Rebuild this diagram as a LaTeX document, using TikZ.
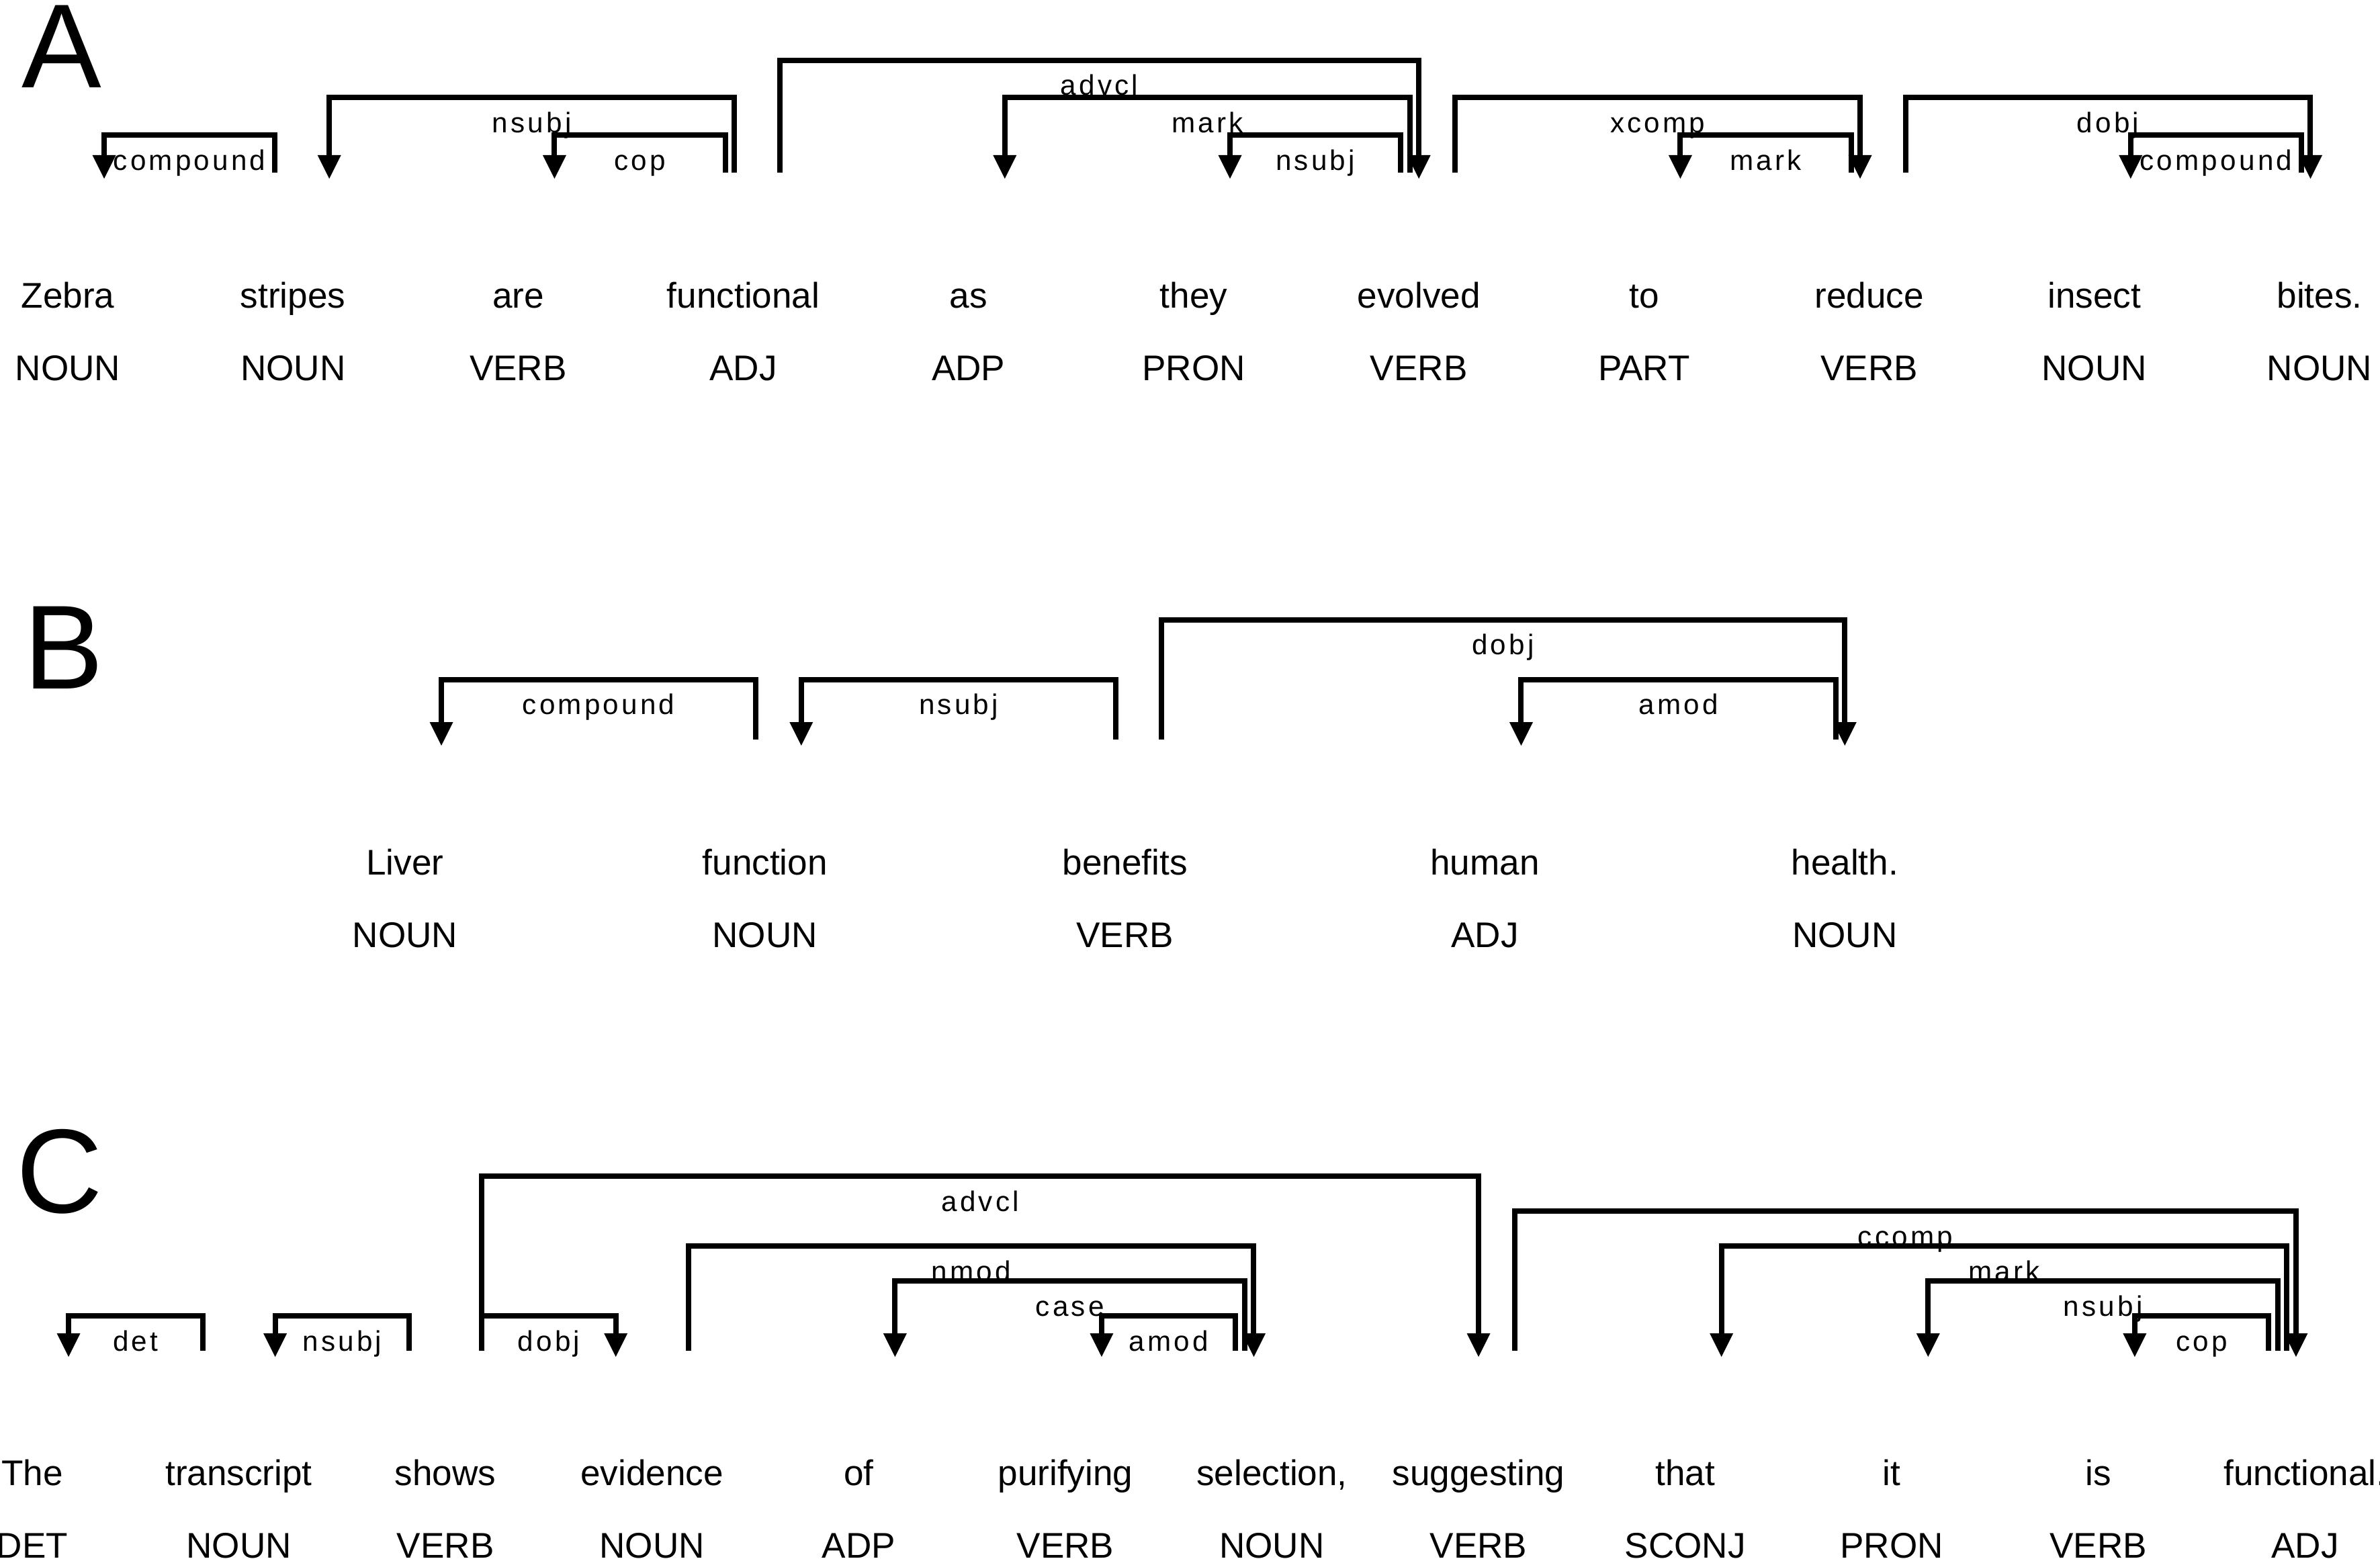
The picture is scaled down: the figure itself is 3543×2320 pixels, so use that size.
\documentclass[tikz,border=0pt]{standalone}
\usepackage{fontspec}
\setmainfont{Liberation Sans}
\usetikzlibrary{arrows.meta, positioning}

\begin{document}
\begin{tikzpicture}[
    x=0.01cm, y=-0.01cm, on grid,
    word/.style={font=\fontsize{15.1pt}{18pt}\selectfont, inner sep=0pt, text height=0.4cm, text depth=0.12cm},
    panel/.style={font=\fontsize{50.6pt}{60pt}\selectfont, inner sep=0pt, anchor=base},
    lbl/.style={font=\fontsize{12pt}{14pt}\selectfont\addfontfeature{LetterSpace=10}, inner sep=0pt, anchor=base, pos=0.25, yshift=-0.52cm},
    dep/.style={line width=0.08cm, -{Triangle[length=0.35cm, width=0.35cm, line width=0pt]}}
]
\useasboundingbox (0,0) rectangle (3543,2320);

% A
\node[panel] (labelA) at (92,130) {A};
\node[word, anchor=base] (zebra) at (101,458) {Zebra};
\node[word, right=3.35cm of zebra] (stripes) {stripes};
\node[word, right=3.35cm of stripes] (are) {are};
\node[word, right=3.35cm of are] (functional) {functional};
\node[word, right=3.35cm of functional] (as) {as};
\node[word, right=3.35cm of as] (they) {they};
\node[word, right=3.35cm of they] (evolved) {evolved};
\node[word, right=3.35cm of evolved] (to) {to};
\node[word, right=3.35cm of to] (reduce) {reduce};
\node[word, right=3.35cm of reduce] (insect) {insect};
\node[word, right=3.35cm of insect] (bites) {bites.};

\node[word, below=1.08cm of zebra] (zebra-pos) {NOUN};
\node[word, below=1.08cm of stripes] (stripes-pos) {NOUN};
\node[word, below=1.08cm of are] (are-pos) {VERB};
\node[word, below=1.08cm of functional] (functional-pos) {ADJ};
\node[word, below=1.08cm of as] (as-pos) {ADP};
\node[word, below=1.08cm of they] (they-pos) {PRON};
\node[word, below=1.08cm of evolved] (evolved-pos) {VERB};
\node[word, below=1.08cm of to] (to-pos) {PART};
\node[word, below=1.08cm of reduce] (reduce-pos) {VERB};
\node[word, below=1.08cm of insect] (insect-pos) {NOUN};
\node[word, below=1.08cm of bites] (bites-pos) {NOUN};

\coordinate (rowA) at (0,257);
\coordinate (tipA) at (0,266);

\draw[dep] ([xshift=-0.27cm]stripes |- rowA) -- ++(0,-55.83) -| node[lbl] {compound} ([xshift=0.54cm]zebra |- tipA);
\draw[dep] ([xshift=-0.135cm]functional |- rowA) -- ++(0,-111.67) -| node[lbl] {nsubj} ([xshift=0.54cm]stripes |- tipA);
\draw[dep] ([xshift=-0.27cm]functional |- rowA) -- ++(0,-55.83) -| node[lbl] {cop} ([xshift=0.54cm]are |- tipA);
\draw[dep] ([xshift=0.54cm]functional |- rowA) -- ++(0,-167.5) -| node[lbl] {advcl} (evolved |- tipA);
\draw[dep] ([xshift=-0.135cm]evolved |- rowA) -- ++(0,-111.67) -| node[lbl] {mark} ([xshift=0.54cm]as |- tipA);
\draw[dep] ([xshift=-0.27cm]evolved |- rowA) -- ++(0,-55.83) -| node[lbl] {nsubj} ([xshift=0.54cm]they |- tipA);
\draw[dep] ([xshift=0.54cm]evolved |- rowA) -- ++(0,-111.67) -| node[lbl] {xcomp} ([xshift=-0.135cm]reduce |- tipA);
\draw[dep] ([xshift=-0.27cm]reduce |- rowA) -- ++(0,-55.83) -| node[lbl] {mark} ([xshift=0.54cm]to |- tipA);
\draw[dep] ([xshift=0.54cm]reduce |- rowA) -- ++(0,-111.67) -| node[lbl] {dobj} ([xshift=-0.135cm]bites |- tipA);
\draw[dep] ([xshift=-0.27cm]bites |- rowA) -- ++(0,-55.83) -| node[lbl] {compound} ([xshift=0.54cm]insect |- tipA);

% B
\node[panel] (labelB) at (95,1025) {B};
\node[word, anchor=base] (liver) at (603,1302) {Liver};
\node[word, right=5.355cm of liver] (function) {function};
\node[word, right=5.355cm of function] (benefits) {benefits};
\node[word, right=5.355cm of benefits] (human) {human};
\node[word, right=5.355cm of human] (health) {health.};

\node[word, below=1.08cm of liver] (liver-pos) {NOUN};
\node[word, below=1.08cm of function] (function-pos) {NOUN};
\node[word, below=1.08cm of benefits] (benefits-pos) {VERB};
\node[word, below=1.08cm of human] (human-pos) {ADJ};
\node[word, below=1.08cm of health] (health-pos) {NOUN};

\coordinate (rowB) at (0,1101);
\coordinate (tipB) at (0,1110);

\draw[dep] ([xshift=-0.135cm]function |- rowB) -- ++(0,-89.25) -| node[lbl] {compound} ([xshift=0.54cm]liver |- tipB);
\draw[dep] ([xshift=-0.135cm]benefits |- rowB) -- ++(0,-89.25) -| node[lbl] {nsubj} ([xshift=0.54cm]function |- tipB);
\draw[dep] ([xshift=0.54cm]benefits |- rowB) -- ++(0,-178.5) -| node[lbl] {dobj} (health |- tipB);
\draw[dep] ([xshift=-0.135cm]health |- rowB) -- ++(0,-89.25) -| node[lbl] {amod} ([xshift=0.54cm]human |- tipB);

% C
\node[panel] (labelC) at (89,1805) {C};
\node[word, anchor=base] (the) at (48,2211) {The};
\node[word, right=3.074cm of the] (transcript) {transcript};
\node[word, right=3.074cm of transcript] (shows) {shows};
\node[word, right=3.074cm of shows] (evidence) {evidence};
\node[word, right=3.074cm of evidence] (of) {of};
\node[word, right=3.074cm of of] (purifying) {purifying};
\node[word, right=3.074cm of purifying] (selection) {selection,};
\node[word, right=3.074cm of selection] (suggesting) {suggesting};
\node[word, right=3.074cm of suggesting] (that) {that};
\node[word, right=3.074cm of that] (it) {it};
\node[word, right=3.074cm of it] (is) {is};
\node[word, right=3.074cm of is] (functional2) {functional.};

\node[word, below=1.08cm of the] (the-pos) {DET};
\node[word, below=1.08cm of transcript] (transcript-pos) {NOUN};
\node[word, below=1.08cm of shows] (shows-pos) {VERB};
\node[word, below=1.08cm of evidence] (evidence-pos) {NOUN};
\node[word, below=1.08cm of of] (of-pos) {ADP};
\node[word, below=1.08cm of purifying] (purifying-pos) {VERB};
\node[word, below=1.08cm of selection] (selection-pos) {NOUN};
\node[word, below=1.08cm of suggesting] (suggesting-pos) {VERB};
\node[word, below=1.08cm of that] (that-pos) {SCONJ};
\node[word, below=1.08cm of it] (it-pos) {PRON};
\node[word, below=1.08cm of is] (is-pos) {VERB};
\node[word, below=1.08cm of functional2] (functional2-pos) {ADJ};

\coordinate (rowC) at (0,2011);
\coordinate (tipC) at (0,2020);

\draw[dep] ([xshift=-0.54cm]transcript |- rowC) -- ++(0,-52) -| node[lbl] {det} ([xshift=0.54cm]the |- tipC);
\draw[dep] ([xshift=-0.54cm]shows |- rowC) -- ++(0,-52) -| node[lbl] {nsubj} ([xshift=0.54cm]transcript |- tipC);
\draw[dep] ([xshift=0.54cm]shows |- rowC) -- ++(0,-52) -| node[lbl] {dobj} ([xshift=-0.54cm]evidence |- tipC);
\draw[dep] ([xshift=0.54cm]shows |- rowC) -- ++(0,-260) -| node[lbl] {advcl} (suggesting |- tipC);
\draw[dep] ([xshift=0.54cm]evidence |- rowC) -- ++(0,-156) -| node[lbl] {nmod} ([xshift=-0.27cm]selection |- tipC);
\draw[dep] ([xshift=-0.405cm]selection |- rowC) -- ++(0,-104) -| node[lbl] {case} ([xshift=0.54cm]of |- tipC);
\draw[dep] ([xshift=-0.54cm]selection |- rowC) -- ++(0,-52) -| node[lbl] {amod} ([xshift=0.54cm]purifying |- tipC);
\draw[dep] ([xshift=0.54cm]suggesting |- rowC) -- ++(0,-208) -| node[lbl] {ccomp} ([xshift=-0.135cm]functional2 |- tipC);
\draw[dep] ([xshift=-0.27cm]functional2 |- rowC) -- ++(0,-156) -| node[lbl] {mark} ([xshift=0.54cm]that |- tipC);
\draw[dep] ([xshift=-0.405cm]functional2 |- rowC) -- ++(0,-104) -| node[lbl] {nsubj} ([xshift=0.54cm]it |- tipC);
\draw[dep] ([xshift=-0.54cm]functional2 |- rowC) -- ++(0,-52) -| node[lbl] {cop} ([xshift=0.54cm]is |- tipC);

\end{tikzpicture}
\end{document}
